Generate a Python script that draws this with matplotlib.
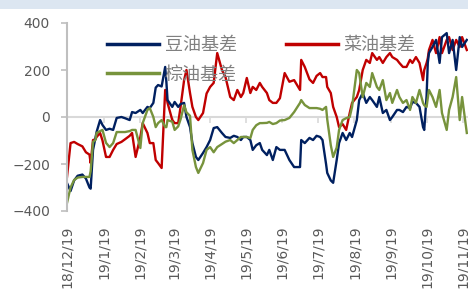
import matplotlib
matplotlib.use("Agg")
import matplotlib.pyplot as plt
from matplotlib.patches import Rectangle
import pandas as pd

# dates shared by the three series
dates = [
    "2018-12-19", "2018-12-22", "2018-12-25", "2018-12-28", "2019-01-01", "2019-01-04",
    "2019-01-07", "2019-01-08", "2019-01-10", "2019-01-12", "2019-01-13", "2019-01-16",
    "2019-01-18", "2019-01-21", "2019-01-24", "2019-01-27", "2019-01-30", "2019-02-03",
    "2019-02-06", "2019-02-10", "2019-02-12", "2019-02-15", "2019-02-19", "2019-02-21",
    "2019-02-25", "2019-02-27", "2019-03-02", "2019-03-04", "2019-03-06", "2019-03-09",
    "2019-03-12", "2019-03-13", "2019-03-14", "2019-03-18", "2019-03-20", "2019-03-23",
    "2019-03-25", "2019-03-28", "2019-03-30", "2019-04-02", "2019-04-04", "2019-04-07",
    "2019-04-09", "2019-04-13", "2019-04-16", "2019-04-19", "2019-04-22", "2019-04-25",
    "2019-04-29", "2019-05-02", "2019-05-06", "2019-05-09", "2019-05-12", "2019-05-15",
    "2019-05-17", "2019-05-20", "2019-05-23", "2019-05-25", "2019-05-28", "2019-05-31",
    "2019-06-02", "2019-06-06", "2019-06-08", "2019-06-11", "2019-06-14", "2019-06-17",
    "2019-06-21", "2019-06-25", "2019-06-29", "2019-07-04", "2019-07-05", "2019-07-08",
    "2019-07-12", "2019-07-15", "2019-07-18", "2019-07-21", "2019-07-23", "2019-07-26",
    "2019-07-27", "2019-07-30", "2019-08-01", "2019-08-04", "2019-08-06", "2019-08-09",
    "2019-08-12", "2019-08-15", "2019-08-17", "2019-08-21", "2019-08-23", "2019-08-26",
    "2019-08-29", "2019-09-01", "2019-09-03", "2019-09-07", "2019-09-09", "2019-09-12",
    "2019-09-15", "2019-09-18", "2019-09-20", "2019-09-24", "2019-09-26", "2019-09-29",
    "2019-10-02", "2019-10-05", "2019-10-07", "2019-10-10", "2019-10-13", "2019-10-16",
    "2019-10-17", "2019-10-19", "2019-10-20", "2019-10-21", "2019-10-24", "2019-10-27",
    "2019-10-30", "2019-11-01", "2019-11-05", "2019-11-07", "2019-11-10", "2019-11-13",
    "2019-11-16", "2019-11-18", "2019-11-22",
]

soy = [
    -281, -315, -270, -250, -245, -262, -300, -305, -140, -90, -64, -13,
    -34, -55, -50, -55, -4, 0, -5, -13, 21, 17, 30, 17,
    43, 38, 60, 125, 136, 130, 213, 150, 72, 43, 64, 43,
    55, 60, 0, -43, -111, -170, -183, -153, -128, -98, -47, -43,
    -68, -85, -89, -80, -85, -98, -85, -85, -98, -140, -120, -111,
    -140, -162, -140, -183, -128, -140, -140, -183, -213, -213, -98, -111,
    -89, -98, -80, -85, -98, -200, -238, -270, -280, -183, -111, -68,
    -98, -68, -85, -13, 72, 102, 60, 85, 72, 43, 85, 17,
    30, -13, 0, 30, 30, 21, 43, 38, 64, 60, 43, -43,
    -55, 90, 230, 272, 298, 328, 230, 340, 357, 272, 328, 200,
    340, 298, 328,
]

rapeseed = [
    -255, -111, -106, -115, -125, -150, -160, -196, -98, -95, -85, -68,
    -100, -170, -170, -140, -115, -106, -95, -80, -68, -170, -85, -26,
    -68, -111, -111, -183, -196, -217, 115, 90, 60, -13, -26, -26,
    43, 157, 200, 102, 43, 0, -13, 17, 100, 128, 145, 272,
    200, 170, 85, 72, 115, 85, 102, 166, 102, 128, 115, 145,
    128, 102, 72, 60, 60, 80, 187, 150, 157, 115, 243, 213,
    160, 145, 175, 187, 170, 170, 128, 102, 43, 0, -43, -30,
    -55, 17, 60, 85, 115, 200, 243, 230, 272, 243, 255, 230,
    255, 272, 255, 243, 230, 213, 213, 243, 230, 255, 230, 157,
    200, 230, 250, 285, 328, 272, 340, 272, 328, 340, 285, 328,
    298, 340, 285,
]

palm = [
    -366, -300, -268, -258, -255, -255, -255, -230, -106, -98, -68, -60,
    -55, -110, -128, -111, -64, -64, -64, -60, -55, -55, -132, -26,
    30, 38, 0, -43, -26, -13, -43, -43, -13, -20, -55, -40,
    -10, 50, 20, 5, -140, -213, -238, -196, -140, -128, -150, -128,
    -115, -105, -98, -111, -98, -85, -85, -85, -90, -55, -35, -26,
    -26, -25, -21, -30, -26, -15, -13, -4, 21, 60, 72, 51,
    38, 38, 38, 35, 30, 43, -10, -120, -170, -130, -55, -13,
    -5, 0, 43, 200, 187, 85, 145, 128, 187, 128, 115, 157,
    72, 102, 60, 115, 85, 60, 72, 30, 85, 60, 115, 60,
    50, 43, 80, 115, 85, 43, 115, 17, -55, 30, 85, 170,
    -13, 85, -68,
]

tick_labels = ["18/12/19", "19/1/19", "19/2/19", "19/3/19", "19/4/19", "19/5/19",
               "19/6/19", "19/7/19", "19/8/19", "19/9/19", "19/10/19", "19/11/19"]
tick_dates = ["2018-12-19", "2019-01-19", "2019-02-19", "2019-03-19", "2019-04-19",
              "2019-05-19", "2019-06-19", "2019-07-19", "2019-08-19", "2019-09-19",
              "2019-10-19", "2019-11-19"]

x = pd.to_datetime(dates)

fig = plt.figure(figsize=(4.68, 2.91), dpi=100)
fig.patches.append(Rectangle((0, 1 - 9 / 291), 1, 9 / 291, transform=fig.transFigure,
                             facecolor="#dce6f1", edgecolor="none", zorder=0))
ax = fig.add_axes([67 / 468, 80 / 291, 1 - 67 / 468, 188 / 291])

grey = "#bfbfbf"
for s in ["top", "right"]:
    ax.spines[s].set_visible(False)
# zero line acts as the category axis
ax.spines["bottom"].set_position(("data", 0))
ax.spines["bottom"].set_color("#d9d9d9")
ax.spines["bottom"].set_linewidth(1.5)
ax.spines["bottom"].set_zorder(0.5)
ax.spines["left"].set_color(grey)
ax.spines["left"].set_linewidth(1.5)

l2, = ax.plot(x, rapeseed, color="#c00000", lw=1.7)
l1, = ax.plot(x, soy, color="#002060", lw=1.7)
l3, = ax.plot(x, palm, color="#77933c", lw=1.7)

ax.set_ylim(-400, 400)
ax.set_yticks([-400, -200, 0, 200, 400])
ax.set_xlim(pd.Timestamp("2018-12-19"), pd.Timestamp("2019-11-23"))
ax.set_xticks(pd.to_datetime(tick_dates))
ax.set_xticklabels(tick_labels)

ax.tick_params(axis="y", direction="out", length=4.3, width=1.2, color=grey,
               labelcolor="#595959", labelsize=10, pad=8)
ax.tick_params(axis="x", direction="out", length=4, width=1.2, color="#d9d9d9",
               labelcolor="#595959", labelsize=10, pad=74, labelrotation=90)
for lab in ax.get_xticklabels():
    lab.set_verticalalignment("top")

leg = fig.legend([l1, l3, l2], ["豆油基差", "棕油基差", "菜油基差"], ncol=2,
                 loc="upper left", bbox_to_anchor=(107 / 468, 1 - 36 / 291),
                 frameon=False, prop={"family": ["Noto Sans CJK SC", "DejaVu Sans"], "size": 13},
                 handlelength=2.9, handletextpad=0.3, columnspacing=2.7,
                 labelspacing=0.65, borderpad=0, borderaxespad=0)
for t in leg.get_texts():
    t.set_color("#808080")
for h in leg.legend_handles:
    h.set_linewidth(2.5)

fig.savefig("out.png", dpi=100)
